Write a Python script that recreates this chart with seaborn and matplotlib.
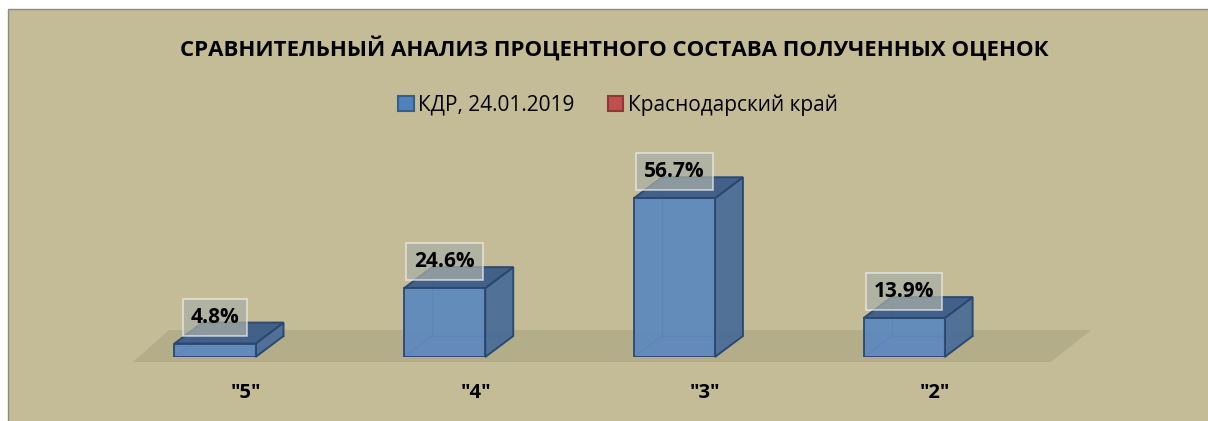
import numpy as np
import matplotlib
matplotlib.use("Agg")
import matplotlib.pyplot as plt
from matplotlib.patches import Polygon, Rectangle
from matplotlib.lines import Line2D
import seaborn as sns
import pandas as pd

# data
grades = ['"5"', '"4"', '"3"', '"2"']
kdr_pct = [4.8, 24.6, 56.7, 13.9]
series_names = ["КДР, 24.01.2019", "Краснодарский край"]
title = "СРАВНИТЕЛЬНЫЙ АНАЛИЗ ПРОЦЕНТНОГО СОСТАВА ПОЛУЧЕННЫХ ОЦЕНОК"

bg = "#C4BC96"
floor_c = "#B3AD8A"
front_c = "#5A87BF"
side_c = "#4B6D97"
top_c = "#3C5C88"
edge_c = "#28466F"

sns.set_theme(style="white")
plt.rcParams["font.family"] = ["Open Sans", "DejaVu Sans"]
plt.rcParams["text.color"] = "black"

W, H = 1208, 421
fig = plt.figure(figsize=(W / 100, H / 100), dpi=100)
fig.patch.set_facecolor("white")

# chart frame (excel chart area)
frame = Rectangle((8 / W, -0.02), 1.0, (H - 9) / H + 0.02,
                  transform=fig.transFigure, facecolor=bg,
                  edgecolor="#8a8a8a", lw=1.0, zorder=-10)
fig.patches.append(frame)

ax = fig.add_axes([0, (H - 357) / H, 1, (357 - 120) / H])
ax.set_zorder(5)
ax.set_facecolor("none")

df = pd.DataFrame({"grade": grades, "pct": kdr_pct})
sns.barplot(data=df, x="grade", y="pct", ax=ax, width=0.353, color=front_c,
            saturation=1, edgecolor=edge_c, linewidth=1.4, zorder=5)

ax.set_xlim(-215 / 229.7, (W - 215) / 229.7)
ax.set_ylim(0, 237 / 2.8)
for s in ax.spines.values():
    s.set_visible(False)
ax.set_yticks([])
ax.set_xticks(np.arange(len(grades)) + 0.135, grades)
ax.tick_params(axis="x", length=0, pad=19)
for t in ax.get_xticklabels():
    t.set_fontweight("bold")
    t.set_fontsize(14.5)
    t.set_color("black")
ax.set_xlabel("")
ax.set_ylabel("")


def shift(x, y, dxp, dyp):
    X, Y = ax.transData.transform((x, y))
    return tuple(ax.transData.inverted().transform((X + dxp, Y + dyp)))


# floor
n = len(grades)
fb_l, fb_r = -0.357, n - 1 + 0.64
p1 = shift(fb_l, 0, 0, -5)
p2 = shift(fb_r, 0, 0, -5)
p3 = shift(fb_r, 0, 40, 27)
p4 = shift(fb_l, 0, 36, 27)
ax.add_patch(Polygon([p1, p2, p3, p4], closed=True, facecolor=floor_c,
                     edgecolor="none", clip_on=False, zorder=1))

# 3d sides and tops of the bars
ddx, ddy = 28, 21
for bar in list(ax.patches)[:n]:
    if not isinstance(bar, Rectangle):
        continue
    x0 = bar.get_x()
    x1 = x0 + bar.get_width()
    h = bar.get_height()
    bar.set_alpha(0.9)
    # hidden back edges
    bl = shift(x0, 0, ddx, ddy)
    ax.add_line(Line2D([bl[0], shift(x1, 0, ddx, ddy)[0]], [bl[1], bl[1]],
                       color=edge_c, lw=0.9, alpha=0.4, zorder=3))
    ax.add_line(Line2D([bl[0], bl[0]], [bl[1], shift(x0, h, ddx, ddy)[1]],
                       color=edge_c, lw=0.9, alpha=0.4, zorder=3))
    ax.add_line(Line2D([x0, bl[0]], [0, bl[1]],
                       color=edge_c, lw=0.9, alpha=0.4, zorder=3))
    side = [(x1, 0), (x1, h), shift(x1, h, ddx, ddy), shift(x1, 0, ddx, ddy)]
    top = [(x0, h), (x1, h), shift(x1, h, ddx, ddy), shift(x0, h, ddx, ddy)]
    ax.add_patch(Polygon(side, closed=True, facecolor=side_c, edgecolor=edge_c,
                         lw=1.4, alpha=0.95, clip_on=False, zorder=4))
    ax.add_patch(Polygon(top, closed=True, facecolor=top_c, edgecolor=edge_c,
                         lw=1.4, alpha=0.95, clip_on=False, zorder=4))
    ax.annotate(f"{h:.1f}%", (x0 + (x1 - x0) / 2, h), xytext=(0, 19),
                textcoords="offset points", ha="center", va="center",
                fontsize=15, fontweight="bold", color="black", zorder=8,
                bbox=dict(boxstyle="square,pad=0.38", facecolor="#A9B0A8",
                          edgecolor="#EEEEEE", lw=1.2, alpha=0.72))

fig.text(614 / W, 1 - 48 / H, title, ha="center", va="center",
         fontsize=16, fontweight="bold", color="black")

handles = [Rectangle((0, 0), 1, 1, facecolor="#4F81BD", edgecolor="#385D8A", lw=1.5),
           Rectangle((0, 0), 1, 1, facecolor="#C0504D", edgecolor="#8C3836", lw=1.5)]
fig.legend(handles, series_names, loc="center", bbox_to_anchor=(618 / W, 1 - 105 / H),
           ncol=2, frameon=False, fontsize=15, handlelength=0.75, handleheight=0.75,
           handletextpad=0.2, columnspacing=1.6, labelcolor="black")

fig.savefig("out.png", dpi=100, facecolor="white")
